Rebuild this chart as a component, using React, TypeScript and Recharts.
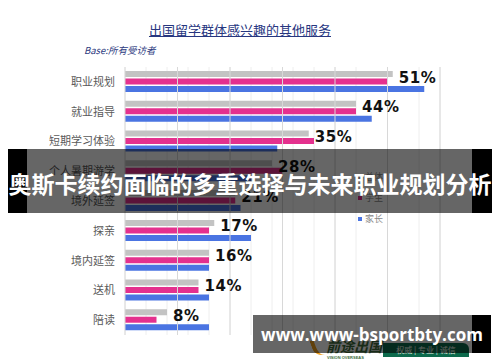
import React from 'react';
import { BarChart, Bar, XAxis, YAxis, CartesianGrid, ReferenceLine, LabelList } from 'recharts';

const categories = ['职业规划', '就业指导', '短期学习体验', '个人暑期游学', '境外延签', '探亲', '境内延签', '送机', '陪读'];
const totalValues = [51, 44, 35, 28, 21, 17, 16, 14, 8];
const studentValues = [50, 44, 36, 30, 21, 16, 16, 14, 6];
const parentValues = [57, 47, 29, 24, 22, 24, 16, 16, 16];
const seriesNames = ['总体', '学生', '家长'];
const seriesColors = ['#c3c3c3', '#e4318e', '#4a74e2'];
const minorTicks = [0, 2, 4, 6, 8, 10, 12, 14, 16, 18, 20, 22, 24, 26, 28, 30, 32, 34, 36, 38, 40, 42, 44, 46, 48, 50, 52, 54, 56, 58, 60];
const majorTicks = [0, 10, 20, 30, 40, 50, 60];
const chartTitle = '出国留学群体感兴趣的其他服务';
const baseText = 'Base:所有受访者';
const bannerText = '奥斯卡续约面临的多重选择与未来职业规划分析';
const watermarkText = 'www.www-bsportbty.com';

const data = categories.map((c, i) => ({
  name: c,
  total: totalValues[i],
  student: studentValues[i],
  parent: parentValues[i],
}));

const cjk = '"Noto Sans CJK SC", "Noto Sans", sans-serif';

const renderPct = (props: any) => {
  const { x, y, width, height, value } = props;
  return (
    <text
      x={Number(x) + Number(width) + 6}
      y={Number(y) + Number(height) + 5.5}
      fontSize={15}
      fontWeight="bold"
      fontFamily='"DejaVu Sans", sans-serif'
      letterSpacing={0.5}
      fill="#111"
    >
      {value}%
    </text>
  );
};

const renderTick = (props: any) => {
  const { x, y, payload } = props;
  return (
    <text x={x} y={y} dy={4} textAnchor="end" fontSize={11} fontFamily={cjk} fill="#5a5a5a">
      {payload.value}
    </text>
  );
};

export default function App() {
  return (
    <div style={{ position: 'absolute', left: 0, top: 0, width: 500, height: 362, background: '#fff', overflow: 'hidden' }}>
      <div
        style={{
          position: 'absolute', left: 0, width: 480, top: 22, textAlign: 'center',
          fontFamily: cjk, fontSize: 13, color: '#27367f', textDecoration: 'underline', lineHeight: '16px',
        }}
      >
        {chartTitle}
      </div>
      <div
        style={{
          position: 'absolute', left: 84, top: 44, fontFamily: cjk, fontSize: 9.5,
          fontStyle: 'italic', color: '#2d3a80', lineHeight: '12px',
        }}
      >
        {baseText}
      </div>
      <div style={{ position: 'absolute', left: 0, top: 0 }}>
        <BarChart
          width={500}
          height={362}
          data={data}
          layout="vertical"
          margin={{ top: 67, right: 60, bottom: 27, left: 15 }}
          barSize={6}
          barGap={1.5}
        >
          <CartesianGrid horizontal={false} stroke="#eeeeee" />
          <XAxis type="number" domain={[0, 60]} ticks={minorTicks} hide />
          <YAxis
            type="category"
            dataKey="name"
            width={110}
            tickSize={0}
            tickMargin={10}
            axisLine={false}
            tickLine={false}
            tick={renderTick}
            interval={0}
          />
          {majorTicks.map((t) => (
            <ReferenceLine key={t} x={t} stroke="#d8d8d8" />
          ))}
          <Bar dataKey="total" name={seriesNames[0]} fill={seriesColors[0]} isAnimationActive={false}>
            <LabelList dataKey="total" content={renderPct} />
          </Bar>
          <Bar dataKey="student" name={seriesNames[1]} fill={seriesColors[1]} isAnimationActive={false} />
          <Bar dataKey="parent" name={seriesNames[2]} fill={seriesColors[2]} isAnimationActive={false} />
        </BarChart>
      </div>
      <div style={{ position: 'absolute', left: 358, top: 166 }}>
        {seriesNames.map((n, i) => (
          <div key={n} style={{ display: 'flex', alignItems: 'center', height: 21, fontSize: 9, fontFamily: cjk, color: '#8a8a8a' }}>
            <span style={{ display: 'inline-block', width: 4, height: 4, background: seriesColors[i], marginRight: 3 }} />
            {n}
          </div>
        ))}
      </div>
      {/* logo under watermark */}
      <div style={{ position: 'absolute', left: 312, top: 338, width: 10, height: 18, borderLeft: '4px solid #f0a020', borderRadius: '0 0 0 10px', transform: 'rotate(-20deg)' }} />
      <div style={{ position: 'absolute', left: 326, top: 338, fontFamily: cjk, fontSize: 14, fontStyle: 'italic', fontWeight: 'bold', color: '#3e6b3a', lineHeight: '16px' }}>前途出国</div>
      <div style={{ position: 'absolute', left: 327, top: 355, fontFamily: 'Arial', fontSize: 4, fontWeight: 'bold', color: '#3e6b3a', lineHeight: '5px' }}>VISION OVERSEAS</div>
      <div style={{ position: 'absolute', left: 383, top: 343, width: 86, height: 14, background: '#0c6a4c', borderRadius: '0 6px 0 0', color: '#e8f0e8', fontFamily: cjk, fontSize: 8, lineHeight: '14px', textAlign: 'center' }}>权威 | 专业 | 诚信</div>
      {/* banner overlay */}
      <div style={{ position: 'absolute', left: 8, top: 149, width: 19, height: 64, background: '#000' }} />
      <div style={{ position: 'absolute', left: 27, top: 149, width: 445, height: 64, background: 'rgba(0,0,0,0.6)' }} />
      <div style={{ position: 'absolute', left: 472, top: 149, width: 20, height: 64, background: '#000' }} />
      <div
        style={{
          position: 'absolute', left: 0, width: 500, top: 168, textAlign: 'center', color: '#fff',
          fontFamily: cjk, fontWeight: 'bold', fontSize: 23, lineHeight: '30px', whiteSpace: 'nowrap',
        }}
      >
        {bannerText}
      </div>
      {/* watermark */}
      <div style={{ position: 'absolute', left: 253, top: 315, width: 219, height: 38, background: 'rgba(0,0,0,0.6)' }} />
      <div style={{ position: 'absolute', left: 472, top: 315, width: 19, height: 38, background: '#000' }} />
      <div
        style={{
          position: 'absolute', left: 253, width: 238, top: 323, textAlign: 'center', color: '#fff',
          fontFamily: '"Open Sans", sans-serif', fontWeight: 'bold', fontSize: 17, lineHeight: '24px', whiteSpace: 'nowrap',
        }}
      >
        {watermarkText}
      </div>
    </div>
  );
}
